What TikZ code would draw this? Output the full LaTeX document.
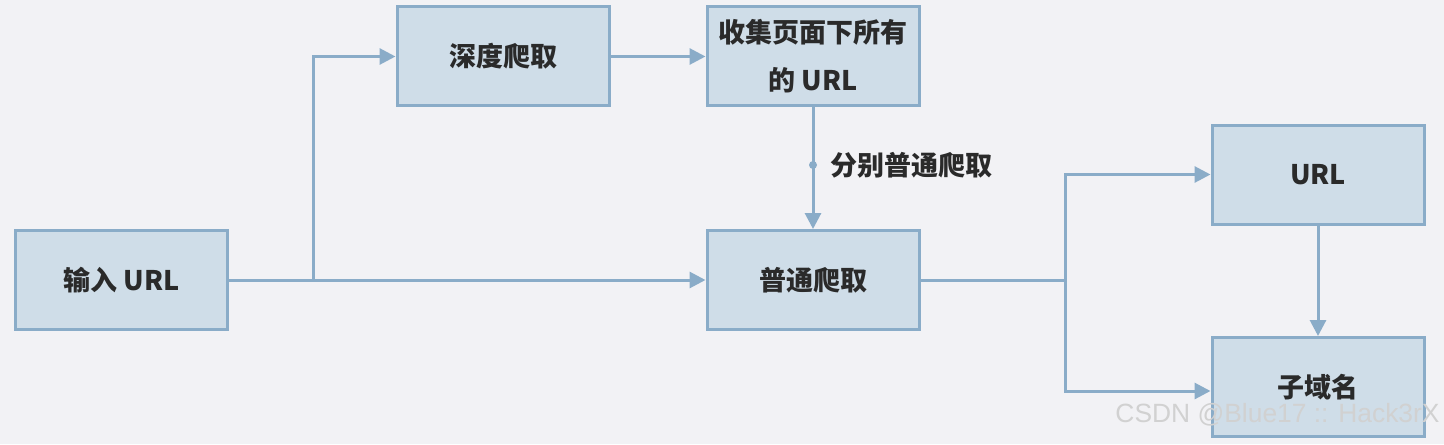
\documentclass[tikz,border=0pt]{standalone}
\usepackage{fontspec}
\setmainfont{Noto Sans CJK SC}
\newfontfamily\wmfont{Liberation Sans}
\usetikzlibrary{arrows.meta}
\definecolor{bg}{HTML}{F2F2F5}
\definecolor{boxfill}{HTML}{CFDDE8}
\definecolor{boxline}{HTML}{8AACC8}
\definecolor{txt}{HTML}{2A2A2A}
\tikzset{
  box/.style={draw=boxline, fill=boxfill, line width=1.5pt, minimum width=106pt, minimum height=49.5pt, inner sep=0pt, align=center, text=txt, font={\fontsize{13.5}{24}\selectfont\bfseries}},
  conn/.style={draw=boxline, line width=1.5pt},
  arr/.style={conn, -{Triangle[length=8pt,width=8pt]}},
  lbl/.style={text=txt, font={\fontsize{13.5}{16}\selectfont\bfseries}, inner sep=0pt},
}
\begin{document}
\begin{tikzpicture}[x=0.5pt,y=-0.5pt]
\fill[bg] (0,0) rectangle (1444,444);
\useasboundingbox (0,0) rectangle (1444,444);
\node[box] (in) at (121.5,280) {输入 URL};
\node[box] (deep) at (503,56.5) {深度爬取};
\node[box] (collect) at (813,56.5) {收集页面下所有\\的 URL};
\node[box] (normal) at (813,280) {普通爬取};
\node[box] (url) at (1318,174.5) {URL};
\node[box] (sub) at (1318,387) {子域名};
\coordinate (b1) at (313,280);
\coordinate (b2) at (1065,280);
\coordinate (dot) at (813,165);
\draw[arr] (in.east) -- (normal.west);
\draw[arr] (b1) |- (deep.west);
\draw[arr] (deep.east) -- (collect.west);
\draw[arr] (collect.south) -- (normal.north);
\fill[boxline] (dot) circle (4);
\node[lbl, anchor=west] (lab) at (830,165) {分别普通爬取};
\draw[conn] (normal.east) -- (b2);
\draw[arr] (b2) |- (url.west);
\draw[arr] (b2) |- ([yshift=-2]sub.west);
\draw[arr] (url.south) -- (sub.north);
\node[text=black!18, font={\wmfont\fontsize{13.2}{14}\selectfont}, anchor=east, inner sep=0pt] (wm) at (1440,415) {CSDN @Blue17 :: Hack3rX};
\end{tikzpicture}
\end{document}
